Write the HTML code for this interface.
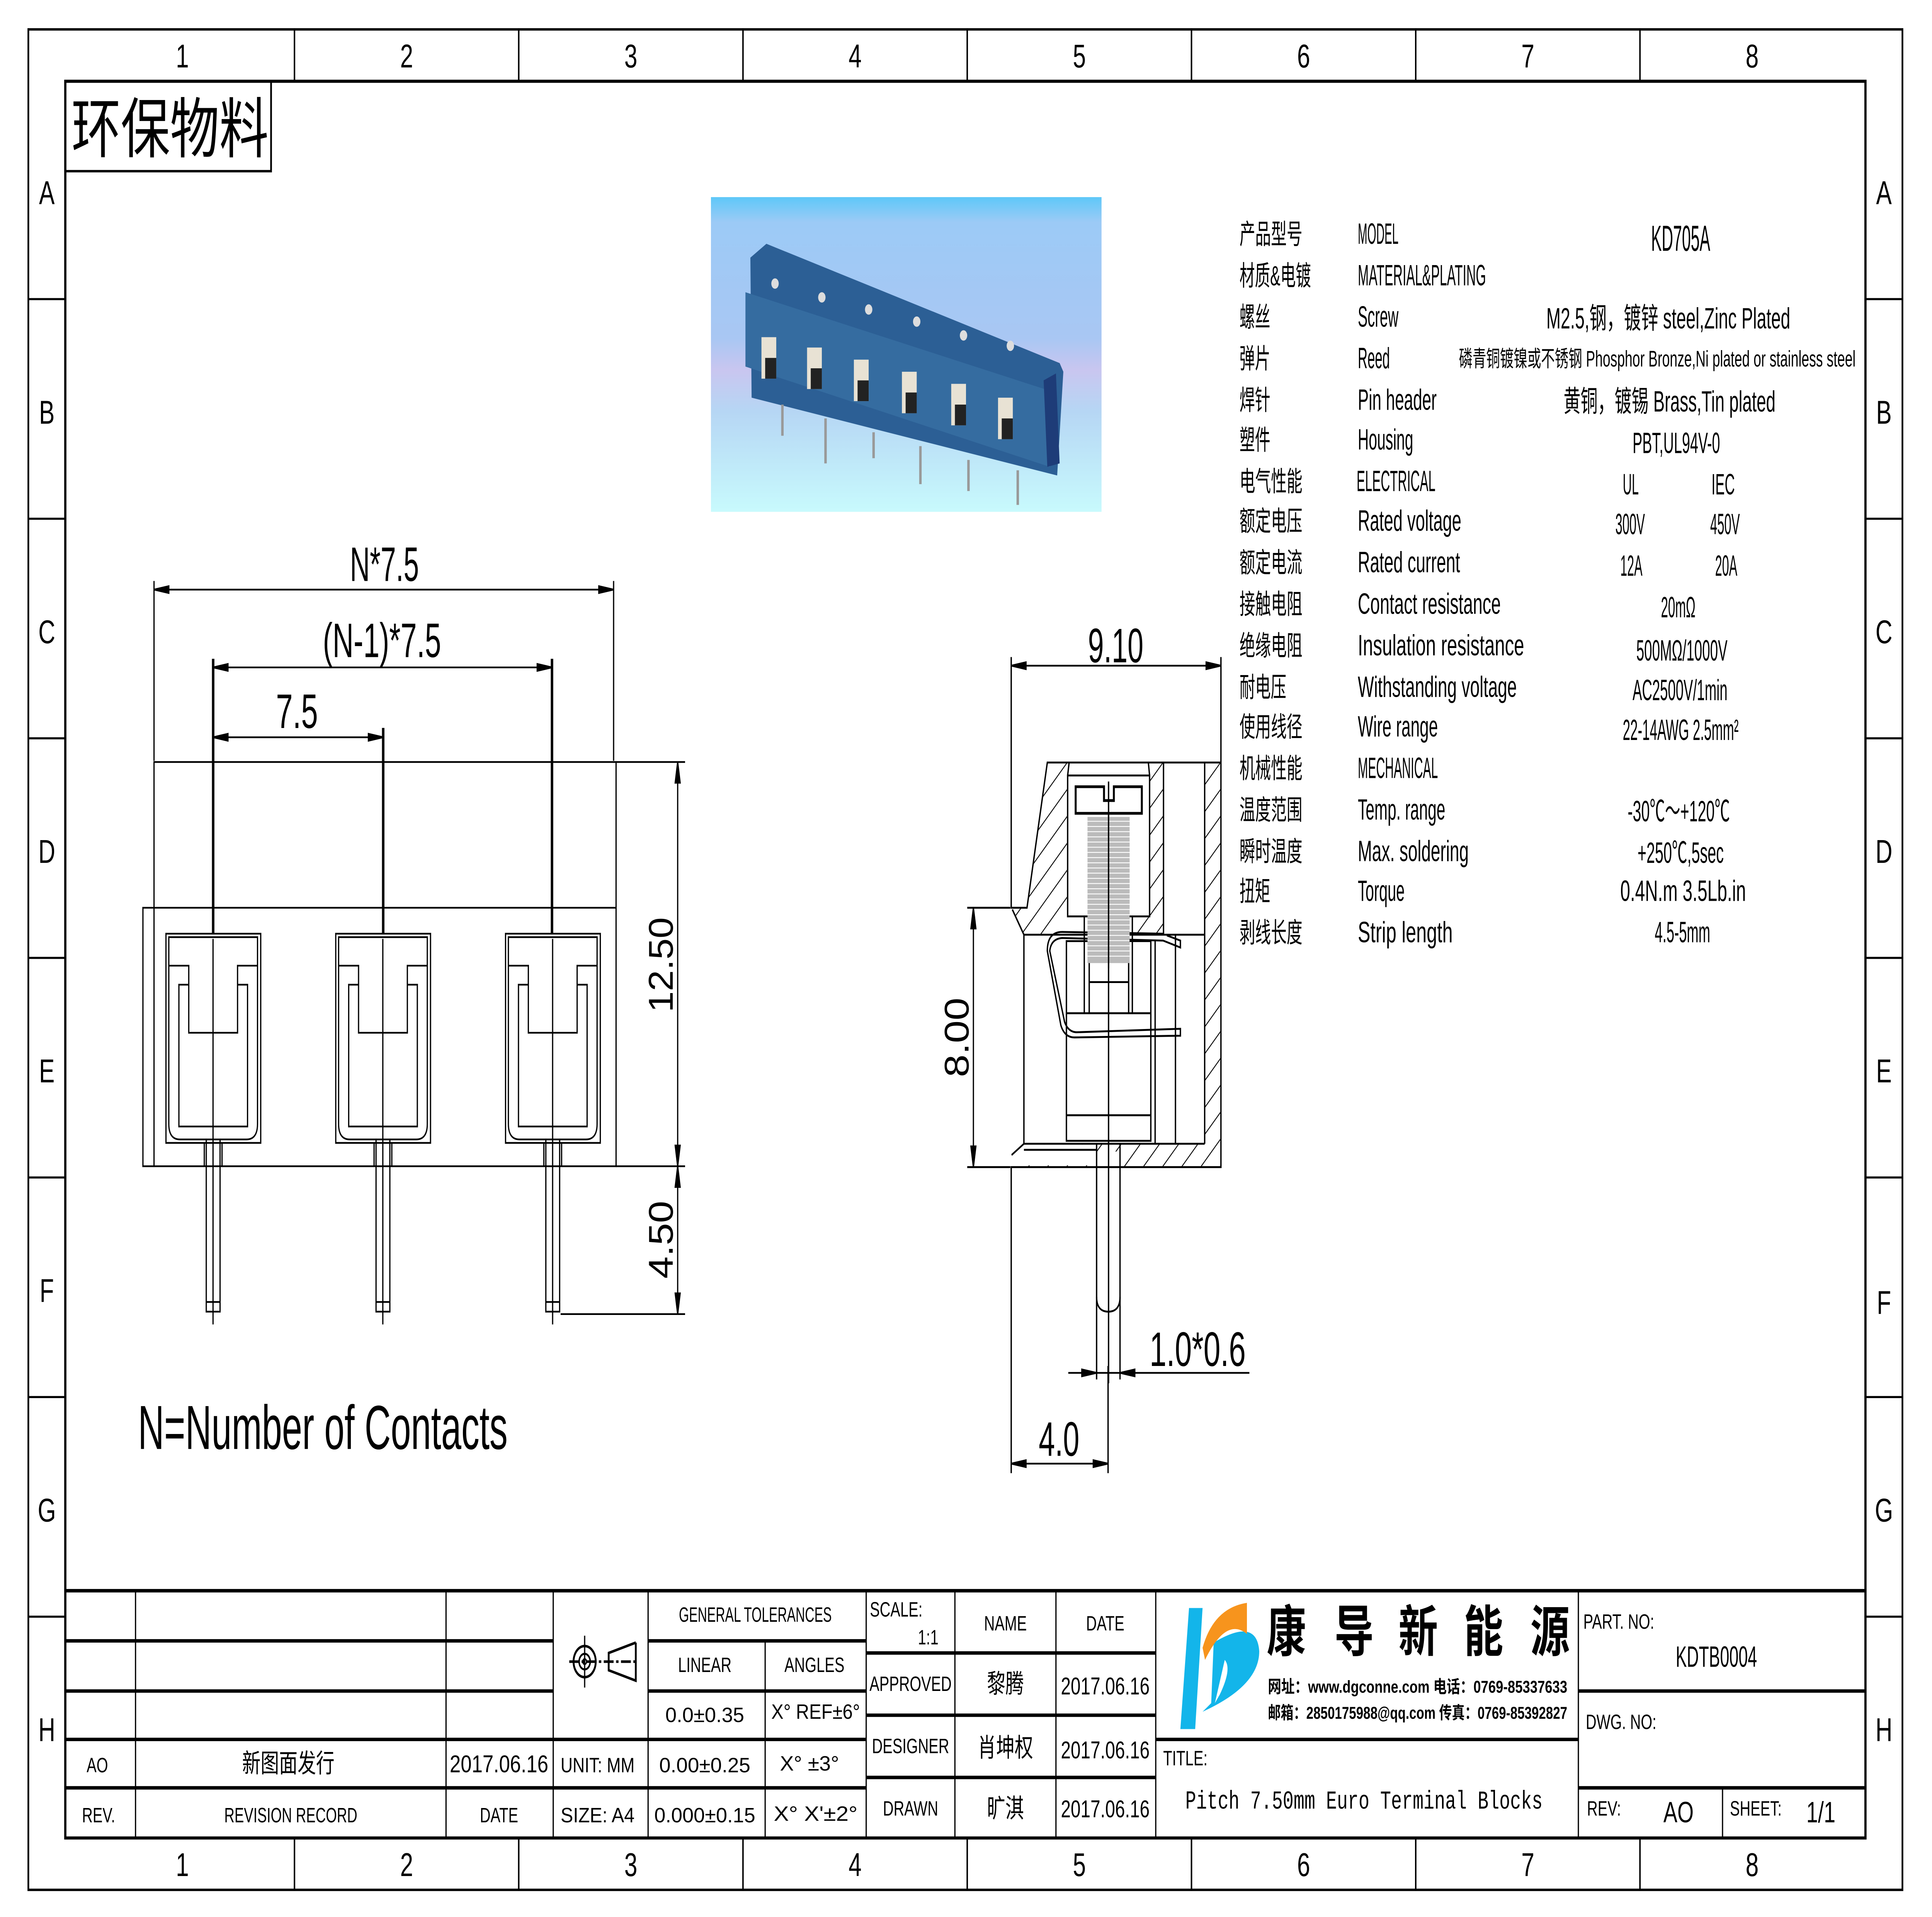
<!DOCTYPE html>
<html><head><meta charset="utf-8"><style>
html,body{margin:0;padding:0;background:#fff;width:100%;height:100%;overflow:hidden;}
svg{display:block;width:100vw;height:100vh;}
text{font-family:"Liberation Sans Narrow","Liberation Sans","Noto Sans CJK SC",sans-serif;fill:#000;}
.cn{font-family:"Liberation Sans","Noto Sans CJK SC",sans-serif;}
.mono{font-family:"Liberation Mono","Noto Sans CJK SC",monospace;}
</style></head><body>
<svg viewBox="0 0 1568 1108.7" xmlns="http://www.w3.org/2000/svg" preserveAspectRatio="none">
<defs>
<pattern id="h" patternUnits="userSpaceOnUse" width="11" height="11" patternTransform="rotate(45)">
<line x1="0" y1="0" x2="0" y2="11" stroke="#000" stroke-width="1.2"/>
</pattern>
</defs>
<rect width="1568" height="1108.7" fill="#fff"/>
<g fill="none" stroke="#000">
<rect x="23" y="17" width="1521" height="1076" stroke-width="1.4"/>
<rect x="53" y="47" width="1461" height="1016" stroke-width="1.8"/>
<g stroke-width="1.2">
<line x1="239" y1="17" x2="239" y2="47"/><line x1="421" y1="17" x2="421" y2="47"/><line x1="603" y1="17" x2="603" y2="47"/><line x1="785" y1="17" x2="785" y2="47"/><line x1="967" y1="17" x2="967" y2="47"/><line x1="1149" y1="17" x2="1149" y2="47"/><line x1="1331" y1="17" x2="1331" y2="47"/>
<line x1="239" y1="1063" x2="239" y2="1093"/><line x1="421" y1="1063" x2="421" y2="1093"/><line x1="603" y1="1063" x2="603" y2="1093"/><line x1="785" y1="1063" x2="785" y2="1093"/><line x1="967" y1="1063" x2="967" y2="1093"/><line x1="1149" y1="1063" x2="1149" y2="1093"/><line x1="1331" y1="1063" x2="1331" y2="1093"/>
<line x1="23" y1="173" x2="53" y2="173"/><line x1="23" y1="300" x2="53" y2="300"/><line x1="23" y1="427" x2="53" y2="427"/><line x1="23" y1="554" x2="53" y2="554"/><line x1="23" y1="681" x2="53" y2="681"/><line x1="23" y1="808" x2="53" y2="808"/><line x1="23" y1="935" x2="53" y2="935"/>
<line x1="1514" y1="173" x2="1544" y2="173"/><line x1="1514" y1="300" x2="1544" y2="300"/><line x1="1514" y1="427" x2="1544" y2="427"/><line x1="1514" y1="554" x2="1544" y2="554"/><line x1="1514" y1="681" x2="1544" y2="681"/><line x1="1514" y1="808" x2="1544" y2="808"/><line x1="1514" y1="935" x2="1544" y2="935"/>
</g>
<rect x="53" y="47" width="167" height="52" stroke-width="1.4"/>
</g>
<g font-size="19" text-anchor="middle">
<text x="148" y="39">1</text><text x="330" y="39">2</text><text x="512" y="39">3</text><text x="694" y="39">4</text><text x="876" y="39">5</text><text x="1058" y="39">6</text><text x="1240" y="39">7</text><text x="1422" y="39">8</text>
<text x="148" y="1085">1</text><text x="330" y="1085">2</text><text x="512" y="1085">3</text><text x="694" y="1085">4</text><text x="876" y="1085">5</text><text x="1058" y="1085">6</text><text x="1240" y="1085">7</text><text x="1422" y="1085">8</text>
<text x="38" y="118">A</text><text x="38" y="245">B</text><text x="38" y="372">C</text><text x="38" y="499">D</text><text x="38" y="626">E</text><text x="38" y="753">F</text><text x="38" y="880">G</text><text x="38" y="1007">H</text>
<text x="1529" y="118">A</text><text x="1529" y="245">B</text><text x="1529" y="372">C</text><text x="1529" y="499">D</text><text x="1529" y="626">E</text><text x="1529" y="760">F</text><text x="1529" y="880">G</text><text x="1529" y="1007">H</text>
</g>
<text x="58" y="88" font-size="38" class="cn" textLength="160" lengthAdjust="spacingAndGlyphs">环保物料</text>

<defs><linearGradient id="bg" x1="0" y1="0" x2="0" y2="1">
<stop offset="0" stop-color="#5ec8f8"/><stop offset="0.08" stop-color="#9ccaf6"/><stop offset="0.45" stop-color="#a9c7f3"/><stop offset="0.55" stop-color="#c9c6f0"/><stop offset="0.68" stop-color="#b6d6f4"/><stop offset="1" stop-color="#c8fafd"/></linearGradient></defs>
<rect x="577" y="114" width="317" height="182" fill="url(#bg)"/>
<polygon points="609,149 622,141 860,210 863,215 858,275 610,230" fill="#2c5f95"/>
<polygon points="605,169 852,226 852,270 605,212" fill="#356ca0"/>
<g fill="#e8e2d4">
<rect x="618" y="195" width="12" height="24"/><rect x="655" y="201" width="12" height="24"/><rect x="693" y="208" width="12" height="24"/><rect x="732" y="215" width="12" height="24"/><rect x="772" y="222" width="12" height="24"/><rect x="810" y="230" width="12" height="24"/></g>
<g fill="#222"><rect x="621" y="207" width="9" height="12"/><rect x="658" y="213" width="9" height="12"/><rect x="696" y="220" width="9" height="12"/><rect x="735" y="227" width="9" height="12"/><rect x="775" y="234" width="9" height="12"/><rect x="813" y="242" width="9" height="12"/></g>
<g fill="#ddd"><circle cx="629" cy="164" r="3"/><circle cx="667" cy="172" r="3"/><circle cx="705" cy="179" r="3"/><circle cx="744" cy="186" r="3"/><circle cx="782" cy="194" r="3"/><circle cx="820" cy="200" r="3"/></g>
<g stroke="#999" stroke-width="2"><line x1="635" y1="234" x2="635" y2="252"/><line x1="670" y1="242" x2="670" y2="268"/><line x1="709" y1="250" x2="709" y2="265"/><line x1="747" y1="258" x2="747" y2="280"/><line x1="786" y1="266" x2="786" y2="284"/><line x1="826" y1="272" x2="826" y2="292"/></g>
<polygon points="847,220 857,216 860,268 850,270" fill="#1e3c78"/>

<g fill="none" stroke="#000" stroke-width="1">
<polyline points="125,525 125,440.7 500,440.7 500,525"/>
<rect x="116" y="525" width="384" height="149.5"/>
<line x1="125" y1="525" x2="125" y2="674.5"/>
</g>
<g id="term" fill="none" stroke="#000" stroke-width="1">
<rect x="134.7" y="540" width="76.9" height="121"/>
<path d="M137,542 H209 V650 Q209,659 200,659 H146 Q137,659 137,650 Z"/>
<polyline points="137,558.5 153.2,558.5 153.2,597.3 192.8,597.3 192.8,558.5 209,558.5"/>
<polyline points="153.2,569.5 145.2,569.5 145.2,651.5 200.9,651.5 200.9,569.5 192.8,569.5"/>
<rect x="167.4" y="659" width="11.2" height="99.6"/>
<line x1="167.4" y1="753" x2="178.6" y2="753"/>
<line x1="165.8" y1="661" x2="165.8" y2="674.5"/><line x1="180.2" y1="661" x2="180.2" y2="674.5"/>
<line x1="172.9" y1="543" x2="172.9" y2="766"/>
</g>
<use href="#term" x="137.8"/>
<use href="#term" x="275.6"/>
<g fill="none" stroke="#000" stroke-width="1">
<line x1="125" y1="336" x2="125" y2="440"/><line x1="498" y1="336" x2="498" y2="440"/>
<line x1="173" y1="381" x2="173" y2="540" stroke-width="2"/><line x1="448" y1="381" x2="448" y2="540" stroke-width="2"/>
<line x1="311" y1="421" x2="311" y2="540" stroke-width="2"/>
<line x1="500" y1="440.7" x2="556" y2="440.7"/><line x1="500" y1="674.5" x2="556" y2="674.5"/><line x1="455" y1="760" x2="556" y2="760"/>
</g>
<g stroke="#000" stroke-width="1" fill="#000">
<line x1="125" y1="341" x2="498" y2="341"/>
<path d="M125,341 l12,-2 v4z M498,341 l-12,-2 v4z"/>
<line x1="173" y1="386" x2="448" y2="386"/>
<path d="M173,386 l12,-2 v4z M448,386 l-12,-2 v4z"/>
<line x1="173" y1="426.4" x2="311" y2="426.4"/>
<path d="M173,426.4 l12,-2 v4z M311,426.4 l-12,-2 v4z"/>
<line x1="550" y1="440.7" x2="550" y2="674.5"/>
<path d="M550,440.7 l-2,12 h4z M550,674.5 l-2,-12 h4z"/>
<line x1="550" y1="674.5" x2="550" y2="760"/>
<path d="M550,674.5 l-2,12 h4z M550,760 l-2,-12 h4z"/>
</g>
<g font-size="28" text-anchor="middle">
<text x="312" y="336" textLength="56" lengthAdjust="spacingAndGlyphs">N*7.5</text>
<text x="310" y="380" textLength="96" lengthAdjust="spacingAndGlyphs">(N-1)*7.5</text>
<text x="241" y="421" textLength="34" lengthAdjust="spacingAndGlyphs">7.5</text>
<text transform="translate(546,558) rotate(-90)" textLength="55" lengthAdjust="spacingAndGlyphs">12.50</text>
<text transform="translate(546,717) rotate(-90)" textLength="45" lengthAdjust="spacingAndGlyphs">4.50</text>
</g>
<text x="112" y="838" font-size="36" textLength="300" lengthAdjust="spacingAndGlyphs">N=Number of Contacts</text>

<g stroke="none" fill="url(#h)">
<polygon points="850,441 867.7,441 866.5,448.5 866.5,530 857,540.6 831,540.6 821.6,525 833.5,525"/>
<polygon points="932,441 944.3,441 944.3,540.6 913,540.6 933,530 933,448.5"/>
<rect x="977.7" y="441" width="13.2" height="234"/>
<polygon points="831,661.5 977.7,661.5 977.7,675 909,675 909,666 890,666 890,675 821,675"/>
</g>
<g fill="#fff" stroke="none">
<rect x="822" y="662" width="68" height="12"/>
</g>
<g fill="none" stroke="#000" stroke-width="1.1">
<polyline points="820.7,380 820.7,525 833.5,525 850,441 990.9,441 990.9,675 820.7,675 820.7,852"/>
<line x1="821.6" y1="526" x2="831" y2="540.6"/>
<line x1="990.9" y1="380" x2="990.9" y2="441"/>
<rect x="866.5" y="448.5" width="66.5" height="81.5"/>
<line x1="867.7" y1="441" x2="866.5" y2="448.5"/><line x1="932" y1="441" x2="933" y2="448.5"/>
<line x1="944.3" y1="441" x2="944.3" y2="540.6"/>
<line x1="977.7" y1="441" x2="977.7" y2="661.5"/>
<line x1="831" y1="540.6" x2="977.7" y2="540.6"/>
<polyline points="831,540.6 831,661.5 977.7,661.5"/>
<line x1="821" y1="668" x2="831" y2="661.5"/>
<line x1="831" y1="665" x2="890" y2="665"/>
<rect x="865.5" y="544.3" width="68.5" height="115.5"/>
<line x1="937.5" y1="544.3" x2="937.5" y2="661.5"/><line x1="954" y1="540.6" x2="954" y2="661.5"/>
<line x1="865.5" y1="586" x2="934" y2="586"/><line x1="865.5" y1="645" x2="934" y2="645"/>
<line x1="880" y1="530" x2="880" y2="586"/><line x1="919" y1="530" x2="919" y2="586"/>
<line x1="884" y1="544" x2="884" y2="586"/><line x1="916" y1="544" x2="916" y2="586"/>
<line x1="884" y1="568" x2="916" y2="568"/>
<path d="M873,455 H896 V463 H904 V455 H926.7 V470.4 H873 Z" stroke-width="1.6"/>
<line x1="899.7" y1="452" x2="899.7" y2="800"/>
<path d="M947,541 L958,544 L958,548 L944,544 L862,542.5 Q853,543 852,550 L864,591 Q867,597 874,597 L958,595 L958,599 L872,600 Q864,600 861,593 L850,550 Q850,539 862,539 L944,540"/>
<line x1="890" y1="675" x2="890" y2="797.8"/><line x1="909" y1="675" x2="909" y2="797.8"/>
<line x1="890" y1="661.5" x2="890" y2="675"/><line x1="909" y1="661.5" x2="909" y2="675"/>
<path d="M890,750 Q890,758.6 899.5,758.6 Q909,758.6 909,750"/>
<line x1="899.3" y1="790" x2="899.3" y2="852"/>
<line x1="785" y1="525" x2="820" y2="525"/><line x1="785" y1="675" x2="820" y2="675"/>
</g>
<g fill="#bbb" stroke="none"><rect x="882.6" y="472.5" width="34.2" height="84.5"/></g>
<g stroke="#fff" stroke-width="0.5">
<path d="M882.6,475 H916.8 M882.6,478 H916.8 M882.6,481 H916.8 M882.6,484 H916.8 M882.6,487 H916.8 M882.6,490 H916.8 M882.6,493 H916.8 M882.6,496 H916.8 M882.6,499 H916.8 M882.6,502 H916.8 M882.6,505 H916.8 M882.6,508 H916.8 M882.6,511 H916.8 M882.6,514 H916.8 M882.6,517 H916.8 M882.6,520 H916.8 M882.6,523 H916.8 M882.6,526 H916.8 M882.6,529 H916.8 M882.6,532 H916.8 M882.6,535 H916.8 M882.6,538 H916.8 M882.6,541 H916.8 M882.6,544 H916.8 M882.6,547 H916.8 M882.6,550 H916.8 M882.6,553 H916.8"/>
</g>
<line x1="899.7" y1="470" x2="899.7" y2="560" stroke="#000" stroke-width="1.1"/>
<g stroke="#000" stroke-width="1" fill="#000">
<line x1="820.7" y1="385" x2="990.9" y2="385"/>
<path d="M820.7,385 l12,-2 v4z M990.9,385 l-12,-2 v4z"/>
<line x1="790" y1="525" x2="790" y2="675"/>
<path d="M790,525 l-2,12 h4z M790,675 l-2,-12 h4z"/>
<line x1="867" y1="794" x2="1014" y2="794"/>
<path d="M890,794 l-12,-2 v4z M909,794 l12,-2 v4z"/>
<line x1="820.7" y1="846.5" x2="899.3" y2="846.5"/>
<path d="M820.7,846.5 l12,-2 v4z M899.3,846.5 l-12,-2 v4z"/>
</g>
<g font-size="28">
<text x="883" y="383" textLength="45" lengthAdjust="spacingAndGlyphs">9.10</text>
<text transform="translate(786,623) rotate(-90)" textLength="46" lengthAdjust="spacingAndGlyphs">8.00</text>
<text x="933" y="790" textLength="78" lengthAdjust="spacingAndGlyphs">1.0*0.6</text>
<text x="843" y="842" textLength="33" lengthAdjust="spacingAndGlyphs">4.0</text>
</g>

<g font-size="16" class="cn">
<text x="1006" y="141" textLength="51" lengthAdjust="spacingAndGlyphs">产品型号</text>
<text x="1006" y="165" textLength="58" lengthAdjust="spacingAndGlyphs">材质&amp;电镀</text>
<text x="1006" y="189" textLength="25" lengthAdjust="spacingAndGlyphs">螺丝</text>
<text x="1006" y="213" textLength="25" lengthAdjust="spacingAndGlyphs">弹片</text>
<text x="1006" y="237" textLength="25" lengthAdjust="spacingAndGlyphs">焊针</text>
<text x="1006" y="260" textLength="25" lengthAdjust="spacingAndGlyphs">塑件</text>
<text x="1006" y="284" textLength="51" lengthAdjust="spacingAndGlyphs">电气性能</text>
<text x="1006" y="307" textLength="51" lengthAdjust="spacingAndGlyphs">额定电压</text>
<text x="1006" y="331" textLength="51" lengthAdjust="spacingAndGlyphs">额定电流</text>
<text x="1006" y="355" textLength="51" lengthAdjust="spacingAndGlyphs">接触电阻</text>
<text x="1006" y="379" textLength="51" lengthAdjust="spacingAndGlyphs">绝缘电阻</text>
<text x="1006" y="403" textLength="38" lengthAdjust="spacingAndGlyphs">耐电压</text>
<text x="1006" y="426" textLength="51" lengthAdjust="spacingAndGlyphs">使用线径</text>
<text x="1006" y="450" textLength="51" lengthAdjust="spacingAndGlyphs">机械性能</text>
<text x="1006" y="474" textLength="51" lengthAdjust="spacingAndGlyphs">温度范围</text>
<text x="1006" y="498" textLength="51" lengthAdjust="spacingAndGlyphs">瞬时温度</text>
<text x="1006" y="521" textLength="25" lengthAdjust="spacingAndGlyphs">扭矩</text>
<text x="1006" y="545" textLength="51" lengthAdjust="spacingAndGlyphs">剥线长度</text>
</g>
<g font-size="17">
<text x="1102" y="141" textLength="33" lengthAdjust="spacingAndGlyphs">MODEL</text>
<text x="1102" y="165" textLength="104" lengthAdjust="spacingAndGlyphs">MATERIAL&amp;PLATING</text>
<text x="1102" y="189" textLength="33" lengthAdjust="spacingAndGlyphs">Screw</text>
<text x="1102" y="213" textLength="26" lengthAdjust="spacingAndGlyphs">Reed</text>
<text x="1102" y="237" textLength="64" lengthAdjust="spacingAndGlyphs">Pin header</text>
<text x="1102" y="260" textLength="45" lengthAdjust="spacingAndGlyphs">Housing</text>
<text x="1101" y="284" textLength="64" lengthAdjust="spacingAndGlyphs">ELECTRICAL</text>
<text x="1102" y="307" textLength="84" lengthAdjust="spacingAndGlyphs">Rated voltage</text>
<text x="1102" y="331" textLength="83" lengthAdjust="spacingAndGlyphs">Rated current</text>
<text x="1102" y="355" textLength="116" lengthAdjust="spacingAndGlyphs">Contact resistance</text>
<text x="1102" y="379" textLength="135" lengthAdjust="spacingAndGlyphs">Insulation resistance</text>
<text x="1102" y="403" textLength="129" lengthAdjust="spacingAndGlyphs">Withstanding voltage</text>
<text x="1102" y="426" textLength="65" lengthAdjust="spacingAndGlyphs">Wire range</text>
<text x="1102" y="450" textLength="65" lengthAdjust="spacingAndGlyphs">MECHANICAL</text>
<text x="1102" y="474" textLength="71" lengthAdjust="spacingAndGlyphs">Temp. range</text>
<text x="1102" y="498" textLength="90" lengthAdjust="spacingAndGlyphs">Max. soldering</text>
<text x="1102" y="521" textLength="38" lengthAdjust="spacingAndGlyphs">Torque</text>
<text x="1102" y="545" textLength="77" lengthAdjust="spacingAndGlyphs">Strip length</text>
</g>
<g font-size="17">
<text x="1340" y="145" font-size="21" textLength="48" lengthAdjust="spacingAndGlyphs">KD705A</text>
<text x="1255" y="190" textLength="198" lengthAdjust="spacingAndGlyphs">M2.5,钢，镀锌 steel,Zinc Plated</text>
<text x="1184" y="212" font-size="13" textLength="322" lengthAdjust="spacingAndGlyphs">磷青铜镀镍或不锈钢 Phosphor Bronze,Ni plated or stainless steel</text>
<text x="1269" y="238" textLength="172" lengthAdjust="spacingAndGlyphs">黄铜，镀锡 Brass,Tin plated</text>
<text x="1325" y="262" textLength="71" lengthAdjust="spacingAndGlyphs">PBT,UL94V-0</text>
<text x="1317" y="286" textLength="13" lengthAdjust="spacingAndGlyphs">UL</text>
<text x="1389" y="286" textLength="19" lengthAdjust="spacingAndGlyphs">IEC</text>
<text x="1311" y="309" textLength="24" lengthAdjust="spacingAndGlyphs">300V</text>
<text x="1388" y="309" textLength="24" lengthAdjust="spacingAndGlyphs">450V</text>
<text x="1315" y="333" textLength="18" lengthAdjust="spacingAndGlyphs">12A</text>
<text x="1392" y="333" textLength="18" lengthAdjust="spacingAndGlyphs">20A</text>
<text x="1348" y="357" textLength="28" lengthAdjust="spacingAndGlyphs">20mΩ</text>
<text x="1328" y="382" textLength="74" lengthAdjust="spacingAndGlyphs">500MΩ/1000V</text>
<text x="1325" y="405" textLength="77" lengthAdjust="spacingAndGlyphs">AC2500V/1min</text>
<text x="1317" y="428" textLength="94" lengthAdjust="spacingAndGlyphs">22-14AWG 2.5mm²</text>
<text x="1321" y="475" textLength="83" lengthAdjust="spacingAndGlyphs">-30℃～+120℃</text>
<text x="1329" y="499" textLength="70" lengthAdjust="spacingAndGlyphs">+250℃,5sec</text>
<text x="1315" y="521" textLength="102" lengthAdjust="spacingAndGlyphs">0.4N.m  3.5Lb.in</text>
<text x="1343" y="545" textLength="45" lengthAdjust="spacingAndGlyphs">4.5-5mm</text>
</g>

<g stroke="#000" fill="none">
<line x1="53" y1="920" x2="1514" y2="920" stroke-width="2"/>
<g stroke-width="2">
<line x1="53" y1="949" x2="449" y2="949"/><line x1="53" y1="978" x2="449" y2="978"/><line x1="53" y1="1006" x2="703" y2="1006"/><line x1="53" y1="1034" x2="703" y2="1034"/>
<line x1="526" y1="949" x2="703" y2="949"/><line x1="526" y1="978" x2="703" y2="978"/>
<line x1="703" y1="956" x2="938" y2="956"/><line x1="703" y1="992" x2="938" y2="992"/><line x1="703" y1="1028" x2="938" y2="1028"/>
<line x1="938" y1="1006" x2="1281" y2="1006"/>
<line x1="1281" y1="978" x2="1514" y2="978"/><line x1="1281" y1="1034" x2="1514" y2="1034"/>
</g>
<g stroke-width="1">
<line x1="110" y1="920" x2="110" y2="1063"/><line x1="362" y1="920" x2="362" y2="1063"/><line x1="449" y1="920" x2="449" y2="1063"/><line x1="526" y1="920" x2="526" y2="1063"/><line x1="621" y1="949" x2="621" y2="1063"/><line x1="703" y1="920" x2="703" y2="1063"/><line x1="775" y1="920" x2="775" y2="1063"/><line x1="857" y1="920" x2="857" y2="1063"/><line x1="938" y1="920" x2="938" y2="1063"/><line x1="1281" y1="920" x2="1281" y2="1063"/><line x1="1398" y1="1034" x2="1398" y2="1063"/>
</g>
<circle cx="474.5" cy="961" r="9" stroke-width="1.5"/><circle cx="474.5" cy="961" r="4.5" stroke-width="1.2"/><circle cx="474.5" cy="961" r="1.5"/>
<line x1="462" y1="961" x2="518" y2="961" stroke-width="1.5" stroke-dasharray="8 2 2 2"/>
<line x1="474.5" y1="946" x2="474.5" y2="976" stroke-width="1"/>
<polyline points="516,950 494,956 494,966 516,972 516,950" stroke-width="1.5"/>
</g>
<g font-size="12" text-anchor="middle">
<text x="613" y="938" textLength="124" lengthAdjust="spacingAndGlyphs">GENERAL  TOLERANCES</text>
<text x="572" y="967">LINEAR</text><text x="661" y="967">ANGLES</text>
<text x="572" y="996" textLength="64" lengthAdjust="spacingAndGlyphs">0.0±0.35</text>
<text x="662" y="994" textLength="72" lengthAdjust="spacingAndGlyphs">X°  REF±6°</text>
<text x="572" y="1025" textLength="74" lengthAdjust="spacingAndGlyphs">0.00±0.25</text>
<text x="657" y="1024" textLength="48" lengthAdjust="spacingAndGlyphs">X°  ±3°</text>
<text x="572" y="1054" textLength="82" lengthAdjust="spacingAndGlyphs">0.000±0.15</text>
<text x="662" y="1053" textLength="68" lengthAdjust="spacingAndGlyphs">X° X'±2°</text>
<text x="485" y="1025" textLength="60" lengthAdjust="spacingAndGlyphs">UNIT:  MM</text>
<text x="485" y="1054" textLength="60" lengthAdjust="spacingAndGlyphs">SIZE:  A4</text>
<text x="79" y="1025">AO</text><text x="80" y="1054">REV.</text>
<text x="236" y="1054" textLength="108" lengthAdjust="spacingAndGlyphs">REVISION  RECORD</text>
<text x="405" y="1054">DATE</text>
<text x="816" y="943">NAME</text><text x="897" y="943">DATE</text>
<text x="739" y="978">APPROVED</text><text x="739" y="1014">DESIGNER</text><text x="739" y="1050">DRAWN</text>
</g>
<g font-size="14" text-anchor="middle">
<text x="405" y="1025" textLength="80" lengthAdjust="spacingAndGlyphs">2017.06.16</text>
<text x="897" y="980" textLength="72" lengthAdjust="spacingAndGlyphs">2017.06.16</text>
<text x="897" y="1017" textLength="72" lengthAdjust="spacingAndGlyphs">2017.06.16</text>
<text x="897" y="1051" textLength="72" lengthAdjust="spacingAndGlyphs">2017.06.16</text>
</g>
<g font-size="15" text-anchor="middle" class="cn">
<text x="234" y="1025">新图面发行</text>
<text x="816" y="979">黎腾</text><text x="816" y="1016">肖坤权</text><text x="816" y="1051">旷淇</text>
</g>
<text x="706" y="935" font-size="12">SCALE:</text>
<text x="745" y="951" font-size="12">1:1</text>
<polygon points="965,930 976,930 970,1000 958,1000" fill="#13b5ea"/>
<path d="M976,990 Q1022,975 1022,955 Q1020,935 985,950 L983,985 Z" fill="#13b5ea"/>
<path d="M976,953 Q985,930 1012,927 L1012,945 Q995,935 978,960 Z" fill="#f7941d"/>
<path d="M990,980 Q1000,965 994,960 L986,985 Z" fill="#fff"/>
<g font-size="32" class="cn" font-weight="bold"><text x="1028" y="955">康</text><text x="1083" y="955">导</text><text x="1135" y="955">新</text><text x="1188" y="955">能</text><text x="1242" y="955">源</text></g>
<g font-size="10" font-weight="bold" class="cn">
<text x="1029" y="979" textLength="243" lengthAdjust="spacingAndGlyphs">网址：www.dgconne.com    电话：0769-85337633</text>
<text x="1029" y="994" textLength="243" lengthAdjust="spacingAndGlyphs">邮箱：2850175988@qq.com 传真：0769-85392827</text>
</g>
<text x="944" y="1021" font-size="12">TITLE:</text>
<text x="962" y="1046" font-size="15" class="mono" textLength="290" lengthAdjust="spacingAndGlyphs">Pitch 7.50mm Euro Terminal Blocks</text>
<text x="1285" y="942" font-size="12">PART. NO:</text>
<text x="1360" y="964" font-size="17" textLength="66" lengthAdjust="spacingAndGlyphs">KDTB0004</text>
<text x="1287" y="1000" font-size="12">DWG. NO:</text>
<text x="1288" y="1050" font-size="12">REV:</text>
<text x="1350" y="1054" font-size="17">AO</text>
<text x="1404" y="1050" font-size="12">SHEET:</text>
<text x="1466" y="1054" font-size="17">1/1</text>
</svg>
</body></html>
